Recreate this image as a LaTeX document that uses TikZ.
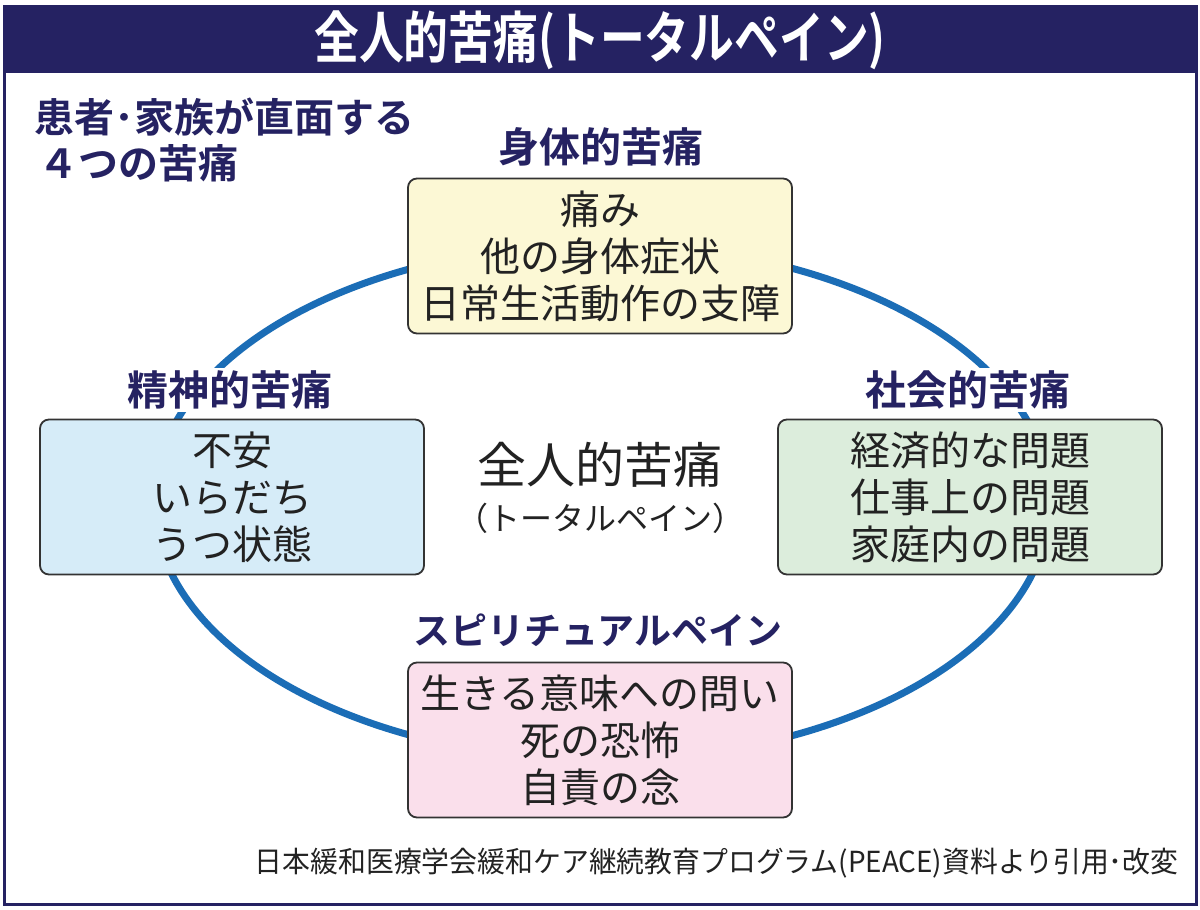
\documentclass[tikz,border=0pt]{standalone}
\usepackage{fontspec}
\setmainfont{Noto Sans CJK JP}[BoldFont={Noto Sans CJK JP Bold}]
\definecolor{navy}{HTML}{252262}
\definecolor{ringblue}{HTML}{1B6DB6}
\definecolor{boxline}{HTML}{333333}
\definecolor{fyellow}{HTML}{FCF8D5}
\definecolor{fblue}{HTML}{D6ECF8}
\definecolor{fgreen}{HTML}{DCEDDC}
\definecolor{fpink}{HTML}{FADFEB}
\definecolor{txt}{HTML}{222222}
\begin{document}
\begin{tikzpicture}[x=1pt,y=-1pt,
  pbox/.style={draw=boxline, line width=1.8pt, rounded corners=9pt,
    minimum width=384pt, minimum height=155pt, align=center, text=txt,
    font=\fontsize{40}{47}\selectfont, inner sep=0pt},
  head/.style={fill=white, text=navy, font=\bfseries\fontsize{41}{46}\selectfont, inner sep=3pt},
  ring/.style={draw=ringblue, line width=7pt}]
\useasboundingbox (0,0) rectangle (1200,910);
\fill[white] (0,0) rectangle (1200,910);
% frame and title bar
\draw[navy, line width=3pt] (4,6) rectangle (1196,904);
\fill[navy] (4,6) rectangle (1196,73);
\node[text=white, font=\bfseries\fontsize{56}{60}\selectfont] (title) at (600,40)
  {\scalebox{0.8}[1]{全人的苦痛(トータルペイン)}};
% ring
\draw[ring] (602,502) ellipse [x radius=448pt, y radius=258pt];
% subtitle
\node[anchor=west, align=left, text=navy, font=\bfseries\fontsize{40}{46}\selectfont] (sub) at (31,140)
  {患者･家族が直面する\\\hspace{4pt}４つの苦痛};
% headings
\node[head] (hphys) at (601,147) {身体的苦痛};
\node[head] (hpsy) at (230,390) {精神的苦痛};
\node[head] (hsoc) at (968,390) {社会的苦痛};
\node[head, font=\bfseries\fontsize{37}{42}\selectfont] (hspi) at (598,630) {スピリチュアルペイン};
% boxes
\node[pbox, fill=fyellow] (phys) at (600,256) {痛み\\他の身体症状\\日常生活動作の支障};
\node[pbox, fill=fblue] (psy) at (232,497) {不安\\いらだち\\うつ状態};
\node[pbox, fill=fgreen] (soc) at (970,497) {経済的な問題\\仕事上の問題\\家庭内の問題};
\node[pbox, fill=fpink] (spi) at (600,740) {生きる意味への問い\\死の恐怖\\自責の念};
% centre
\node[text=txt, font=\fontsize{49}{52}\selectfont] (centre) at (600,465) {全人的苦痛};
\node[text=txt, font=\fontsize{32}{36}\selectfont] (centre2) at (600,518) {（トータルペイン）};
% footer
\node[anchor=east, text=txt, font=\fontsize{29}{32}\selectfont] (foot) at (1182,863)
  {\scalebox{0.96}[1]{日本緩和医療学会緩和ケア継続教育プログラム(PEACE)資料より引用･改変}};
\end{tikzpicture}
\end{document}
